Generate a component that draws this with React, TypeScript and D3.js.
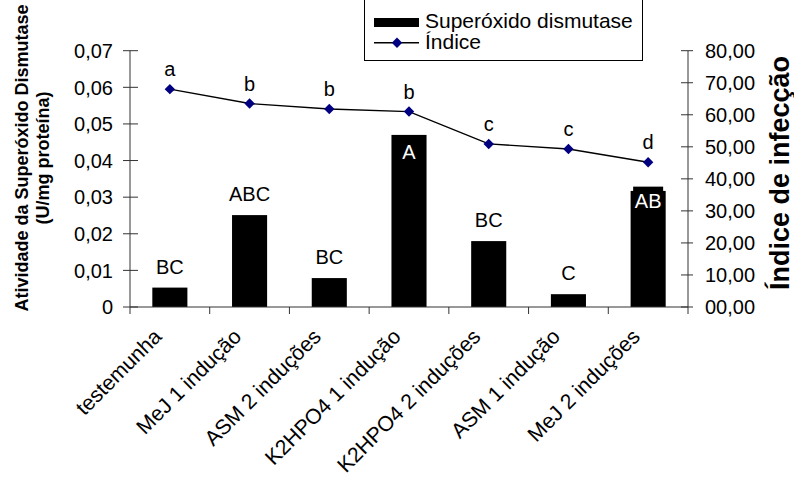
import React from "react";
import * as d3 from "d3";

const categories = [
  "testemunha",
  "MeJ 1 indução",
  "ASM 2 induções",
  "K2HPO4 1 indução",
  "K2HPO4 2 induções",
  "ASM 1 indução",
  "MeJ 2 induções",
];
const sodValues = [0.0053, 0.0251, 0.0079, 0.047, 0.018, 0.0035, 0.0317];
const sodLetters = ["BC", "ABC", "BC", "A", "BC", "C", "AB"];
const sodLetterInside = [false, false, false, true, false, false, true];
const indexValues = [68.0, 63.5, 61.8, 61.0, 50.9, 49.3, 45.2];
const indexLetters = ["a", "b", "b", "b", "c", "c", "d"];
const leftTicks = [0, 0.01, 0.02, 0.03, 0.04, 0.05, 0.06, 0.07];
const leftTickLabels = ["0", "0,01", "0,02", "0,03", "0,04", "0,05", "0,06", "0,07"];
const rightTicks = [0, 10, 20, 30, 40, 50, 60, 70, 80];
const rightTickLabels = ["00,00", "10,00", "20,00", "30,00", "40,00", "50,00", "60,00", "70,00", "80,00"];

const FONT = "'Liberation Sans', Arial, Helvetica, sans-serif";
const W = 794;
const H = 481;
const left = 130;
const right = 688;
const top = 50.7;
const bottom = 307;

export default function App() {
  const x = d3
    .scaleBand<string>()
    .domain(categories)
    .range([left, right])
    .paddingInner(0.56)
    .paddingOuter(0.28);
  const step = (right - left) / categories.length;
  const yL = d3.scaleLinear().domain([0, 0.07]).range([bottom, top]);
  const yR = d3.scaleLinear().domain([0, 80]).range([bottom, top]);
  const cx = (c: string) => (x(c) as number) + x.bandwidth() / 2;

  const line = d3
    .line<number>()
    .x((_, i) => cx(categories[i]))
    .y((v) => yR(v));

  const diamond = (px: number, py: number, r = 5.2) =>
    `M${px},${py - r}L${px + r},${py}L${px},${py + r}L${px - r},${py}Z`;

  const axisColor = "#333";

  return (
    <svg
      width={W}
      height={H}
      viewBox={`0 0 ${W} ${H}`}
      style={{ position: "absolute", left: 0, top: 0, background: "#fff" }}
      fontFamily={FONT}
    >
      {/* bars */}
      {categories.map((c, i) => (
        <rect
          key={c}
          x={x(c)}
          y={yL(sodValues[i])}
          width={x.bandwidth()}
          height={bottom - yL(sodValues[i])}
          fill="#000"
        />
      ))}

      {/* bar letters */}
      {categories.map((c, i) => {
        const yTop = yL(sodValues[i]);
        if (sodLetterInside[i]) {
          const tw = sodLetters[i].length > 1 ? 30 : 16;
          return (
            <g key={c + "-l"}>
              {sodLetters[i].length > 1 && (
                <rect x={cx(c) - tw / 2} y={yTop - 4.3} width={tw} height={26} fill="#000" />
              )}
              <text
                x={cx(c)}
                y={yTop + (sodLetters[i].length > 1 ? 17.5 : 24)}
                textAnchor="middle"
                fontSize={20}
                fill="#fff"
              >
                {sodLetters[i]}
              </text>
            </g>
          );
        }
        return (
          <text key={c + "-l"} x={cx(c)} y={yTop - 14} textAnchor="middle" fontSize={20} fill="#000">
            {sodLetters[i]}
          </text>
        );
      })}

      {/* x axis */}
      <line x1={left} x2={right} y1={bottom} y2={bottom} stroke={axisColor} strokeWidth={1} />
      {d3.range(categories.length + 1).map((i) => (
        <line
          key={"xt" + i}
          x1={left + i * step}
          x2={left + i * step}
          y1={bottom}
          y2={bottom + 7}
          stroke={axisColor}
        />
      ))}
      {categories.map((c) => (
        <text
          key={c + "-x"}
          transform={`translate(${cx(c) - 7},${338}) rotate(-45)`}
          textAnchor="end"
          fontSize={21.2}
          fill="#000"
        >
          {c}
        </text>
      ))}

      {/* left axis */}
      <line x1={left} x2={left} y1={top} y2={bottom} stroke={axisColor} />
      {leftTicks.map((t, i) => (
        <g key={"lt" + i}>
          <line x1={left - 7} x2={left + 8} y1={yL(t)} y2={yL(t)} stroke={axisColor} />
          <text x={113} y={yL(t)} dy="0.36em" textAnchor="end" fontSize={20} fill="#000">
            {leftTickLabels[i]}
          </text>
        </g>
      ))}

      {/* right axis */}
      <line x1={right} x2={right} y1={top} y2={bottom} stroke={axisColor} />
      {rightTicks.map((t, i) => (
        <g key={"rt" + i}>
          <line x1={right - 7} x2={right + 5} y1={yR(t)} y2={yR(t)} stroke={axisColor} />
          <text x={705} y={yR(t)} dy="0.36em" textAnchor="start" fontSize={20} fill="#000">
            {rightTickLabels[i]}
          </text>
        </g>
      ))}

      {/* infection index line */}
      <path d={line(indexValues) || ""} fill="none" stroke="#000" strokeWidth={1.4} />
      {indexValues.map((v, i) => (
        <g key={"p" + i}>
          <path d={diamond(cx(categories[i]), yR(v))} fill="#000080" />
          <text
            x={cx(categories[i])}
            y={yR(v) - 13}
            textAnchor="middle"
            fontSize={20}
            fill="#000"
          >
            {indexLetters[i]}
          </text>
        </g>
      ))}

      {/* axis titles */}
      <text
        transform={`translate(28,158) rotate(-90)`}
        textAnchor="middle"
        fontSize={18}
        fontWeight="bold"
        fill="#000"
      >
        Atividade da Superóxido Dismutase
      </text>
      <text
        transform={`translate(49,158) rotate(-90)`}
        textAnchor="middle"
        fontSize={18}
        fontWeight="bold"
        fill="#000"
      >
        (U/mg proteína)
      </text>
      <text
        transform={`translate(789,173) rotate(-90)`}
        textAnchor="middle"
        fontSize={27}
        fontWeight="bold"
        fill="#000"
      >
        Índice de infecção
      </text>

      {/* legend */}
      <rect x={364.5} y={-0.5} width={278} height={61} fill="#fff" stroke="#000" strokeWidth={1} />
      <rect x={374} y={18} width={45} height={9} fill="#000" />
      <text x={425} y={28} fontSize={21} fill="#000">
        Superóxido dismutase
      </text>
      <line x1={374} x2={419} y1={42.7} y2={42.7} stroke="#000" strokeWidth={1.4} />
      <path d={diamond(397, 42.7)} fill="#000080" />
      <text x={425} y={49} fontSize={21} fill="#000">
        Índice
      </text>
    </svg>
  );
}
